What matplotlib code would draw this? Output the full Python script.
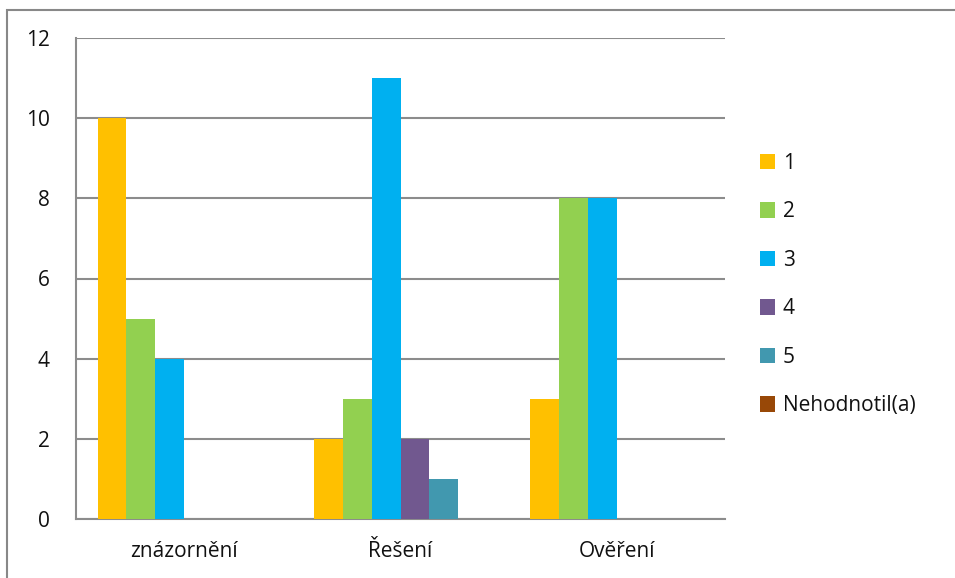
import matplotlib.pyplot as plt
from matplotlib.patches import Rectangle
import numpy as np

categories = ['znázornění', 'Řešení', 'Ověření']
series_names = ['1', '2', '3', '4', '5', 'Nehodnotil(a)']
values = {
    '1': [10, 2, 3],
    '2': [5, 3, 8],
    '3': [4, 11, 8],
    '4': [0, 2, 0],
    '5': [0, 1, 0],
    'Nehodnotil(a)': [0, 0, 0],
}
colors = ['#FFC000', '#92D050', '#00B0F0', '#71588F', '#4198AF', '#984807']
y_ticks = [0, 2, 4, 6, 8, 10, 12]

plt.rcParams['font.family'] = ['Open Sans', 'DejaVu Sans']
fs = 15

fig = plt.figure(figsize=(9.55, 5.78), dpi=100)
W, H = 955, 578
ax = fig.add_axes([76 / W, 1 - 519 / H, (725 - 76) / W, (519 - 38) / H])

# outer chart border, running off the right and bottom of the image
fig.patches.append(Rectangle((7 / W, -0.1), 1.2, 1 - 10 / H + 0.1,
                             transform=fig.transFigure, fill=False,
                             edgecolor='#888888', linewidth=1.5))

n = len(series_names)
gap = 1.5
bar_w = 1.0 / (n + gap)
x = np.arange(len(categories))
for i, name in enumerate(series_names):
    offs = -0.5 + gap * bar_w / 2 + bar_w * (i + 0.5)
    ax.bar(x + offs, values[name], width=bar_w, color=colors[i],
           label=name, zorder=3)

ax.set_xlim(-0.5, len(categories) - 0.5)
ax.set_ylim(0, 12)
ax.set_yticks(y_ticks)
ax.set_xticks(x)
ax.set_xticklabels(categories)
ax.yaxis.grid(True, color='#8c8c8c', linewidth=1.5, zorder=0)
ax.tick_params(length=0, labelsize=fs, labelcolor='#111111')
ax.tick_params(axis='y', pad=19)
ax.tick_params(axis='x', pad=16)
for s in ['top', 'right']:
    ax.spines[s].set_visible(False)
for s in ['left', 'bottom']:
    ax.spines[s].set_color('#8c8c8c')
    ax.spines[s].set_linewidth(1.5)

leg = ax.legend(loc='upper left', bbox_to_anchor=(741 / W, 1 - 134 / H),
                bbox_transform=fig.transFigure, frameon=False, fontsize=fs,
                handlelength=0.75, handleheight=0.75, handletextpad=0.35,
                labelspacing=1.32)
for t in leg.get_texts():
    t.set_color('#111111')

fig.savefig('out.png', dpi=100)
